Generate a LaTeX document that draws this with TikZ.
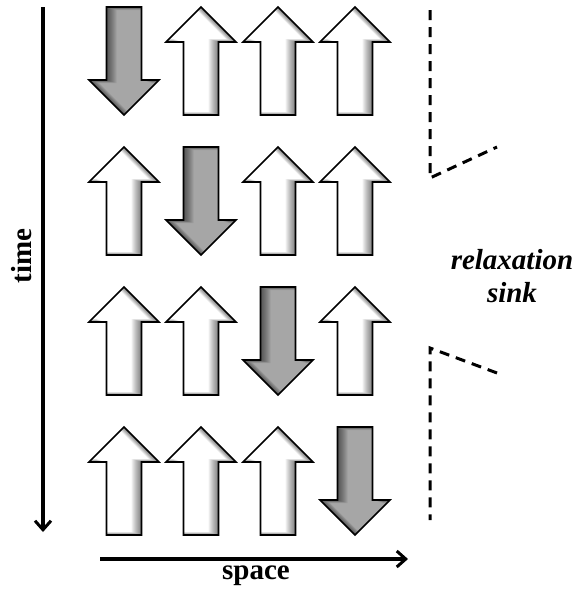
\documentclass[tikz,border=0pt]{standalone}
\usepackage{fontspec}
\setmainfont{Liberation Serif}
\usepackage{tikz}
\usetikzlibrary{arrows.meta,positioning}

\begin{document}
\begin{tikzpicture}[x=1pt,y=-1pt,>={Straight Barb[length=9pt,width=16pt,line width=3pt]},
  axis/.style={line width=3.5pt,->},
  sinkline/.style={line width=3pt,dash pattern=on 10pt off 7pt},
  lbl/.style={font=\bfseries\fontsize{29}{33}\selectfont},
  spinup/.style={fill=white},
  spindown/.style={fill=black!35}]
\useasboundingbox (0,0) rectangle (574,589);
% spins: one flipped per row, moving to the right
\foreach \r in {0,...,3}{
  \foreach \c in {0,...,3}{
    \ifnum\c=\r \def\ang{180}\def\sty{spindown}\else \def\ang{0}\def\sty{spinup}\fi
    \begin{scope}[shift={(124+77*\c,61+140*\r)},rotate=\ang]
      \path[\sty] (0,-54) -- (35,-19) -- (17.5,-19) -- (17.5,54) -- (-17.5,54) -- (-17.5,-19) -- (-35,-19) -- cycle;
      % inner shadow
      \begin{scope}
        \clip (0,-54) -- (35,-19) -- (17.5,-19) -- (17.5,54) -- (-17.5,54) -- (-17.5,-19) -- (-35,-19) -- cycle;
        \foreach \d in {1,...,10}
          \fill[black,opacity=0.06,even odd rule,xshift=-\d pt,yshift=0.3*\d pt] (-90,-90) rectangle (90,90)
            (0,-54) -- (35,-19) -- (17.5,-19) -- (17.5,54) -- (-17.5,54) -- (-17.5,-19) -- (-35,-19) -- cycle;
      \end{scope}
      \draw[line width=1.6pt] (0,-54) -- (35,-19) -- (17.5,-19) -- (17.5,54) -- (-17.5,54) -- (-17.5,-19) -- (-35,-19) -- cycle;
    \end{scope}
  }
}
% axes
\coordinate (t0) at (43,7);
\coordinate (t1) at (43,532);
\coordinate (s0) at (100,559);
\coordinate (s1) at (408,559);
\draw[axis] (t0) -- (t1);
\draw[axis] (s0) -- (s1);
\node[lbl,rotate=90] (timelbl) at (22,256) {time};
\node[lbl] (spacelbl) at (256,576) {space};
% relaxation sink
\draw[sinkline] (430,10) -- (430,178) -- (497,147);
\draw[sinkline] (497,373) -- (430,348) -- (430,520);
\node[lbl,font=\bfseries\itshape\fontsize{29}{33}\selectfont,align=center] (sinklbl) at (512,276) {relaxation\\sink};
\end{tikzpicture}
\end{document}
